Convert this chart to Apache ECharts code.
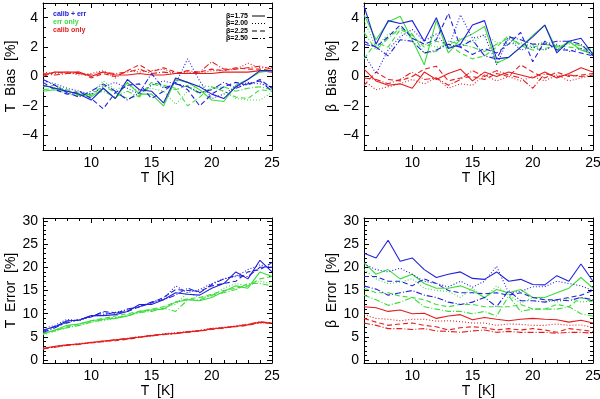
<!DOCTYPE html>
<html>
<head>
<meta charset="utf-8">
<script src="https://cdn.jsdelivr.net/npm/echarts@6/dist/echarts.min.js"></script>
<style>
  html, body { margin: 0; padding: 0; background: #fff; }
  #main { width: 600px; height: 399px; }
</style>
</head>
<body>
<div id="main"></div>
<script>
// temperatures (K)
const T = [6, 7, 8, 9, 10, 11, 12, 13, 14, 15, 16, 17, 18, 19, 20, 21, 22, 23, 24, 25];
const xTicks = [10, 15, 20, 25];
const biasTicks = [-4, -2, 0, 2, 4];
const errTicks = [0, 5, 10, 15, 20, 25, 30];
const betaNames = ['β=1.75', 'β=2.00', 'β=2.25', 'β=2.50'];
const groupNames = ['calib + err', 'err only', 'calib only'];

// each group: [beta 1.75, 2.00, 2.25, 2.50]
const tBiasCalibErr = [
  [-0.6, -0.8, -1.0, -1.2, -1.6, -0.8, -1.5, -0.2, -0.9, -1.0, -1.8, -0.1, -0.4, -0.7, -1.2, -1.5, -0.7, -0.2, 0.4, 0.4],
  [-0.3, -0.5, -0.8, -1.0, -1.2, -0.7, -0.4, -0.8, -1.2, -0.6, -0.3, -0.5, 1.2, -0.3, -1.5, -1.2, -0.7, -0.4, -0.5, -0.7],
  [-0.4, -0.9, -1.2, -1.0, -1.5, -2.2, -1.1, -0.6, -0.5, -1.5, -1.0, -0.4, -0.9, -2.0, -1.2, -0.7, -0.4, -0.6, -0.2, -0.8],
  [-0.2, -0.6, -1.1, -1.4, -1.0, -0.5, -1.0, -1.6, -1.1, 0.2, -0.8, -0.5, -0.7, -1.1, -0.9, -0.4, -0.8, -0.5, -0.3, -1.0]
];
const tBiasErrOnly = [
  [-1.0, -0.9, -1.0, -1.2, -1.4, -0.8, -1.5, -0.4, -1.2, -1.2, -2.0, -0.2, -0.4, -0.9, -1.6, -1.7, -0.6, -0.2, 0.3, 0.4],
  [-0.5, -0.8, -1.2, -1.3, -1.2, -0.3, -0.9, -0.6, -1.0, -0.8, -1.0, -1.9, -1.0, -0.6, -0.7, -1.0, -1.5, -1.6, -1.6, -1.1],
  [-0.7, -0.6, -1.0, -1.1, -1.3, -0.6, -1.1, -1.5, -1.3, -0.4, -0.6, -0.8, -2.0, -1.4, -0.7, -1.0, -1.4, -1.5, -0.9, -1.0],
  [-0.9, -0.8, -0.9, -1.3, -1.2, -1.0, -1.4, -1.0, -1.4, -0.5, -0.7, -0.9, -0.6, -1.2, -0.8, -0.7, -1.0, -0.8, -0.7, -0.9]
];
const tBiasCalibOnly = [
  [0.1, 0.3, 0.3, 0.3, 0.0, 0.3, 0.1, 0.1, 0.2, 0.1, 0.1, 0.2, 0.2, 0.2, 0.2, 0.3, 0.3, 0.3, 0.4, 0.3],
  [0.3, 0.2, 0.3, 0.1, 0.2, 0.4, -0.1, 0.4, 0.3, 0.4, 0.5, 0.2, 0.3, 0.2, 0.4, 0.4, 0.5, 0.9, 0.6, 0.6],
  [0.0, 0.3, 0.2, 0.3, -0.1, 0.2, 0.0, 0.4, 0.8, 0.3, 0.6, 0.3, 0.2, 0.3, 0.5, 0.4, 0.6, 0.5, 0.5, 0.4],
  [0.2, 0.1, 0.2, 0.2, 0.1, 0.3, 0.2, 0.3, 0.5, 0.2, 0.3, 0.2, 0.4, 0.3, 1.0, 0.5, 0.5, 0.6, 0.7, 0.5]
];

const bBiasCalibErr = [
  [4.8, 2.2, 3.8, 3.6, 3.8, 2.4, 4.0, 1.9, 2.2, 3.5, 3.8, 1.2, 1.3, 2.0, 2.7, 3.5, 1.6, 2.4, 2.6, 1.5],
  [1.5, 0.2, 1.8, 2.7, 3.2, 2.4, 2.9, 1.9, 4.2, 2.6, 2.8, 0.8, 2.6, 1.8, 2.0, 1.8, 2.2, 1.7, 1.9, 1.5],
  [2.4, 2.0, 2.7, 3.5, 2.6, 2.2, 2.5, 4.3, 2.0, 1.5, 1.9, 1.6, 2.2, 3.0, 1.0, 2.4, 1.8, 1.8, 1.6, 1.4],
  [2.2, 2.0, 1.4, 2.5, 2.4, 1.6, 1.8, 2.2, 2.0, 2.5, 1.4, 1.2, 2.7, 2.5, 2.2, 2.2, 2.4, 2.4, 2.2, 1.4]
];
const bBiasErrOnly = [
  [4.2, 2.5, 3.7, 4.1, 2.5, 0.8, 3.8, 1.6, 2.5, 2.9, 3.4, 0.9, 1.3, 2.0, 2.8, 3.5, 1.8, 2.4, 1.8, 1.5],
  [3.8, 2.0, 2.9, 3.0, 2.6, 2.2, 2.0, 2.1, 2.6, 2.3, 2.9, 2.3, 2.2, 2.3, 2.1, 2.4, 2.0, 2.2, 2.1, 1.8],
  [1.2, 2.3, 2.0, 3.2, 2.8, 2.0, 2.4, 2.2, 1.6, 1.2, 1.4, 2.0, 2.8, 2.1, 1.8, 1.9, 2.1, 2.0, 1.9, 1.6],
  [3.0, 1.8, 2.6, 3.3, 2.9, 1.6, 1.7, 2.4, 2.2, 2.0, 1.7, 2.2, 2.6, 2.2, 2.0, 2.2, 2.0, 2.3, 2.1, 1.7]
];
const bBiasCalibOnly = [
  [0.5, -0.3, -0.6, -0.5, -0.8, 0.3, -0.2, 0.2, 0.5, -0.3, 0.3, 0.0, 0.3, 0.1, -0.1, 0.3, -0.1, 0.2, 0.6, 0.3],
  [-0.3, -0.9, -0.7, -0.5, -0.2, -0.5, -0.1, -0.8, -0.5, -0.6, 0.1, -0.3, 0.0, -0.3, 0.0, -0.3, 0.1, -0.3, -0.1, 0.1],
  [-0.6, 0.3, -0.2, -0.3, 0.0, 0.5, 0.7, -0.3, -0.1, 0.0, -0.2, 0.2, 0.0, 0.8, 0.3, -0.1, 0.3, 0.0, 0.1, 0.2],
  [-0.1, -0.2, -0.5, -0.2, 0.3, -0.2, -0.1, -0.6, -0.2, 0.4, 0.0, 0.4, 0.1, -0.1, -0.8, 0.2, 0.0, 0.1, 0.0, 0.1]
];

const tErrCalibErr = [
  [6.5, 7.2, 8.5, 8.6, 9.6, 9.6, 9.8, 10.5, 12.0, 12.0, 13.0, 14.5, 14.2, 14.0, 15.5, 16.5, 19.0, 17.5, 21.5, 19.0],
  [6.8, 7.5, 8.8, 8.5, 9.4, 9.8, 10.3, 10.8, 11.5, 12.5, 13.2, 16.0, 14.5, 15.2, 16.5, 17.5, 18.0, 19.5, 20.5, 20.0],
  [6.2, 7.3, 8.0, 8.8, 9.3, 10.5, 10.2, 10.5, 11.5, 12.3, 13.5, 15.2, 15.0, 14.8, 16.0, 16.5, 17.0, 19.0, 19.5, 21.0],
  [6.0, 7.0, 8.2, 8.7, 9.5, 10.2, 10.0, 11.0, 11.5, 12.5, 13.0, 14.0, 15.5, 14.5, 16.3, 17.5, 18.2, 18.0, 20.0, 20.0]
];
const tErrErrOnly = [
  [5.8, 6.5, 7.5, 7.8, 8.5, 8.8, 9.0, 9.5, 10.5, 10.8, 11.0, 12.5, 13.0, 12.8, 13.5, 14.8, 16.0, 15.5, 19.0, 18.0],
  [5.5, 6.2, 7.0, 7.5, 8.2, 8.5, 9.0, 9.8, 10.2, 10.8, 11.5, 12.0, 14.5, 13.5, 13.8, 15.5, 16.5, 16.0, 17.0, 16.5],
  [5.8, 6.3, 7.2, 7.8, 8.5, 9.0, 9.5, 10.0, 10.5, 11.0, 11.5, 12.5, 13.2, 13.5, 14.2, 15.0, 15.5, 16.0, 17.5, 18.0],
  [5.6, 6.5, 7.0, 7.5, 8.2, 8.7, 9.2, 9.5, 10.3, 10.5, 11.2, 10.5, 13.0, 13.0, 14.0, 14.5, 15.2, 16.5, 16.5, 16.0]
];
const tErrCalibOnly = [
  [2.5, 3.0, 3.3, 3.5, 3.8, 4.1, 4.4, 4.6, 5.0, 5.3, 5.6, 5.8, 6.1, 6.3, 6.7, 7.0, 7.3, 7.6, 8.2, 8.0],
  [2.6, 2.9, 3.2, 3.6, 3.9, 4.0, 4.3, 4.7, 5.1, 5.2, 5.7, 5.9, 6.2, 6.4, 6.9, 7.1, 7.4, 7.8, 8.0, 8.1],
  [2.4, 2.9, 3.3, 3.5, 3.7, 4.1, 4.2, 4.5, 4.9, 5.4, 5.5, 5.8, 6.0, 6.3, 6.6, 7.0, 7.2, 7.5, 8.1, 7.9],
  [2.5, 2.8, 3.2, 3.4, 3.8, 4.0, 4.4, 4.7, 5.0, 5.2, 5.6, 5.7, 6.1, 6.4, 6.8, 6.9, 7.3, 7.7, 8.3, 8.0]
];

const bErrCalibErr = [
  [23.0, 22.0, 25.8, 21.3, 22.0, 19.5, 17.8, 18.5, 19.0, 17.6, 17.4, 19.0, 17.0, 17.4, 16.3, 16.2, 18.2, 17.0, 20.7, 17.0],
  [20.7, 19.5, 19.0, 19.8, 18.5, 17.0, 16.5, 15.8, 17.0, 15.7, 17.0, 20.2, 14.5, 14.8, 15.8, 15.8, 17.0, 16.5, 16.0, 15.0],
  [18.0, 18.0, 17.0, 17.0, 16.0, 17.5, 16.5, 15.0, 14.5, 14.5, 14.3, 14.5, 14.0, 14.5, 13.5, 13.0, 13.0, 13.5, 14.0, 15.0],
  [16.0, 15.3, 14.0, 14.5, 15.0, 14.0, 13.5, 12.5, 12.0, 12.5, 13.5, 11.5, 15.0, 12.8, 12.8, 12.5, 13.0, 12.8, 13.5, 13.0]
];
const bErrErrOnly = [
  [21.0, 18.5, 19.5, 17.5, 18.5, 16.5, 15.5, 15.5, 16.0, 15.0, 13.5, 15.2, 14.5, 15.2, 13.5, 13.5, 14.5, 15.5, 17.8, 15.5],
  [19.5, 17.5, 16.5, 16.8, 17.5, 15.5, 15.0, 14.8, 13.5, 15.5, 13.3, 16.0, 14.0, 12.3, 13.5, 13.0, 12.5, 13.3, 12.5, 12.8],
  [15.5, 14.5, 14.5, 13.8, 13.5, 13.0, 12.0, 11.5, 12.0, 12.0, 11.5, 11.5, 11.5, 12.0, 11.0, 11.0, 12.0, 11.5, 13.5, 12.5],
  [14.0, 13.0, 11.8, 12.5, 13.5, 11.5, 11.0, 10.5, 10.5, 10.0, 10.5, 9.5, 13.8, 10.5, 11.0, 11.0, 11.0, 11.5, 10.0, 9.5]
];
const bErrCalibOnly = [
  [11.5, 11.3, 10.5, 10.8, 10.0, 10.1, 9.0, 9.5, 9.8, 8.7, 9.2, 8.8, 8.5, 8.8, 9.0, 8.8, 8.7, 8.2, 8.6, 8.0],
  [9.8, 9.0, 8.8, 8.5, 8.8, 8.8, 8.4, 8.5, 8.3, 8.0, 8.0, 7.5, 7.8, 7.7, 7.5, 7.5, 7.8, 7.5, 7.6, 7.0],
  [9.0, 8.2, 7.5, 7.8, 8.0, 7.5, 7.2, 6.5, 7.0, 7.2, 7.0, 6.5, 6.8, 6.5, 6.8, 6.5, 6.0, 6.8, 6.5, 6.2],
  [8.0, 7.5, 6.8, 6.8, 6.6, 6.8, 6.3, 6.2, 6.0, 6.3, 6.5, 6.0, 6.2, 6.0, 6.0, 6.0, 5.8, 6.0, 6.0, 5.8]
];

const colors = ['#2020dc', '#3cdc3c', '#e41e1e'];
const dashes = ['solid', [1, 2], [5, 3], [6, 2, 1, 2]];
const FONT = 'Liberation Sans, Arial, sans-serif';

const panels = [
  { grid: { left: 43, top: 3, width: 229, height: 147 }, yname: 'T  Bias  [%]', min: -5, max: 5, ticks: biasTicks, minorStep: 2 / 3,
    groups: [tBiasCalibErr, tBiasErrOnly, tBiasCalibOnly] },
  { grid: { left: 364, top: 3, width: 229, height: 147 }, yname: 'β  Bias  [%]', min: -5, max: 5, ticks: biasTicks, minorStep: 2 / 3,
    groups: [bBiasCalibErr, bBiasErrOnly, bBiasCalibOnly] },
  { grid: { left: 43, top: 218, width: 229, height: 145 }, yname: 'T  Error  [%]', min: -0.6, max: 30.6, ticks: errTicks, minorStep: 1,
    groups: [tErrCalibErr, tErrErrOnly, tErrCalibOnly] },
  { grid: { left: 364, top: 218, width: 229, height: 145 }, yname: 'β  Error  [%]', min: -0.6, max: 30.6, ticks: errTicks, minorStep: 1,
    groups: [bErrCalibErr, bErrErrOnly, bErrCalibOnly] }
];

const grids = [], xAxes = [], yAxes = [], series = [];
const lineC = { color: '#000', width: 1 };

panels.forEach((p, gi) => {
  grids.push(Object.assign({ show: false, containLabel: false, outerBoundsMode: 'none' }, p.grid));
  // minor tick positions
  const minors = [];
  for (let v = p.ticks[0]; v >= p.min - 1e-9; v -= p.minorStep) minors.push(+v.toFixed(4));
  for (let v = p.ticks[0] + p.minorStep; v <= p.max + 1e-9; v += p.minorStep) minors.push(+v.toFixed(4));

  const xi = xAxes.length, yi = yAxes.length;
  ['bottom', 'top'].forEach((pos, k) => {
    xAxes.push({
      type: 'value', gridIndex: gi, min: 6, max: 25, position: pos,
      name: k === 0 ? 'T  [K]' : '', nameLocation: 'middle', nameGap: 21,
      nameTextStyle: { fontFamily: FONT, fontSize: 14, color: '#000' },
      axisLine: { show: true, onZero: false, lineStyle: lineC },
      axisTick: { show: true, inside: true, length: 5, customValues: xTicks, lineStyle: lineC },
      axisLabel: { show: k === 0, customValues: xTicks, margin: 6, fontFamily: FONT, fontSize: 14, color: '#000' },
      splitLine: { show: false }
    });
    xAxes.push({
      type: 'value', gridIndex: gi, min: 6, max: 25, interval: 1, position: pos,
      axisLine: { show: false, onZero: false },
      axisTick: { show: true, inside: true, length: 3, lineStyle: lineC },
      axisLabel: { show: false }, splitLine: { show: false }
    });
  });
  ['left', 'right'].forEach((pos, k) => {
    yAxes.push({
      type: 'value', gridIndex: gi, min: p.min, max: p.max, position: pos,
      name: k === 0 ? p.yname : '', nameLocation: 'middle', nameGap: 24, nameRotate: 90,
      nameTextStyle: { fontFamily: FONT, fontSize: 14, color: '#000' },
      axisLine: { show: true, onZero: false, lineStyle: lineC },
      axisTick: { show: true, inside: true, length: 5, customValues: p.ticks, lineStyle: lineC },
      axisLabel: { show: k === 0, customValues: p.ticks, margin: 5, fontFamily: FONT, fontSize: 14, color: '#000',
        formatter: v => String(v).replace('-', '\u2212') },
      splitLine: { show: false }
    });
    yAxes.push({
      type: 'value', gridIndex: gi, min: p.min, max: p.max, position: pos,
      axisLine: { show: false, onZero: false },
      axisTick: { show: true, inside: true, length: 3, customValues: minors, lineStyle: lineC },
      axisLabel: { show: false }, splitLine: { show: false }
    });
  });

  // draw red first, then green, then blue on top
  [2, 1, 0].forEach(ci => {
    p.groups[ci].forEach((vals, bi) => {
      series.push({
        name: groupNames[ci] + ' ' + betaNames[bi],
        type: 'line', xAxisIndex: xi, yAxisIndex: yi,
        data: T.map((t, i) => [t, vals[i]]),
        showSymbol: false, symbol: 'none', silent: true, clip: true,
        lineStyle: { color: colors[ci], width: 1.1, type: dashes[bi] }
      });
    });
  });
});

// legends drawn as graphics in the first panel
const graphic = [];
groupNames.forEach((g, i) => {
  graphic.push({ type: 'text', left: 53, top: 11 + i * 7.6,
    style: { text: g, fill: colors[i], font: 'bold 7px ' + FONT } });
});
betaNames.forEach((b, i) => {
  const y = 16 + i * 7.5;
  graphic.push({ type: 'text', x: 248, y: y, style: { text: b, fill: '#000', font: 'bold 7px ' + FONT, align: 'right', verticalAlign: 'middle' } });
  graphic.push({ type: 'line', shape: { x1: 252, y1: y, x2: 265, y2: y },
    style: { stroke: '#000', lineWidth: 1, lineDash: dashes[i] === 'solid' ? null : dashes[i] } });
});

const chart = echarts.init(document.getElementById('main'), null, { renderer: 'canvas' });
chart.setOption({
  animation: false,
  backgroundColor: '#fff',
  grid: grids,
  xAxis: xAxes,
  yAxis: yAxes,
  series: series,
  graphic: graphic
});
</script>
</body>
</html>
